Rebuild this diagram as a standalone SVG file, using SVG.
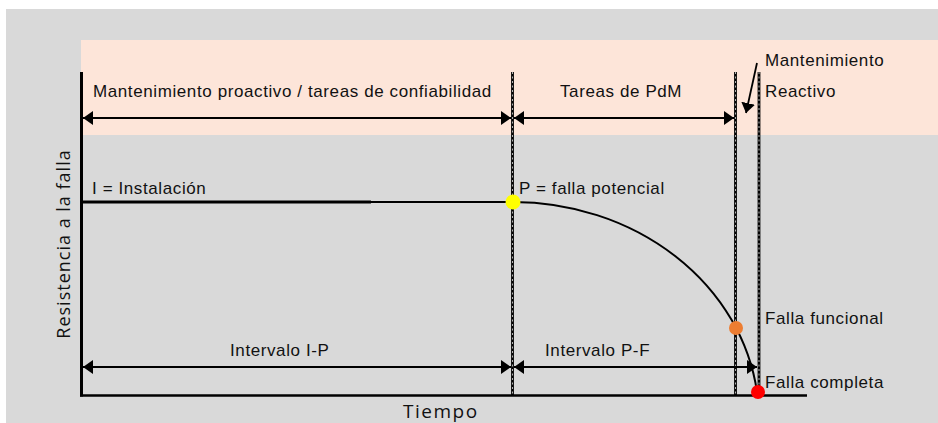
<svg xmlns="http://www.w3.org/2000/svg" width="938" height="423" viewBox="0 0 938 423">
<style>
.lbl{font-family:"Liberation Sans",Arial,sans-serif;font-size:17px;letter-spacing:0.6px;fill:#111}
.ax{font-family:"Open Sans","DejaVu Sans",sans-serif;font-size:19px;fill:#111}
.dashb{stroke:#000;stroke-width:2.8;fill:none}
.dashw{stroke:#fff;stroke-width:0.7;stroke-dasharray:2 2.5;fill:none}
.arr{stroke:#000;stroke-width:2;fill:none;marker-end:url(#ah);marker-start:url(#ah)}
</style>
<defs>
<marker id="ah" viewBox="0 0 10 10" refX="10" refY="5" markerWidth="10" markerHeight="14" markerUnits="userSpaceOnUse" orient="auto-start-reverse" preserveAspectRatio="none">
<path d="M0,0 L10,5 L0,10 z" fill="#000"/>
</marker>
</defs>
<rect x="0" y="0" width="938" height="423" fill="#fff"/>
<rect x="6" y="9" width="932" height="414" fill="#d9d9d9"/>
<rect x="81" y="40" width="857" height="95" fill="#fde5d9"/>
<g id="axes">
<line x1="81.5" y1="72" x2="81.5" y2="396.5" stroke="#000" stroke-width="3"/>
<line x1="80" y1="395.5" x2="807" y2="395.5" stroke="#000" stroke-width="2.5"/>
<text class="ax" transform="translate(70,244) rotate(-90)" text-anchor="middle" style="letter-spacing:1px;font-size:18px">Resistencia a la falla</text>
<text class="ax" x="403" y="418" style="letter-spacing:1.5px">Tiempo</text>
</g>
<g id="dividers">
<line class="dashb" x1="512.5" y1="72" x2="512.5" y2="396"/>
<line class="dashw" x1="512.5" y1="72" x2="512.5" y2="396"/>
<line class="dashb" x1="735.5" y1="72" x2="735.5" y2="396"/>
<line class="dashw" x1="735.5" y1="72" x2="735.5" y2="396"/>
<line class="dashb" x1="759" y1="72" x2="759" y2="396"/>
<line class="dashw" x1="759" y1="72" x2="759" y2="396"/>
</g>
<g id="connectors">
<line class="arr" x1="83" y1="118" x2="511" y2="118"/>
<line class="arr" x1="514" y1="118" x2="734" y2="118"/>
<line class="arr" x1="83" y1="367" x2="511" y2="367"/>
<line class="arr" x1="514" y1="367" x2="757" y2="367"/>
<line x1="757" y1="63" x2="746" y2="113" stroke="#000" stroke-width="1.8" marker-end="url(#ah)"/>
</g>
<g id="curve">
<line x1="81" y1="202" x2="371" y2="202" stroke="#000" stroke-width="3"/>
<line x1="371" y1="202" x2="513" y2="202" stroke="#000" stroke-width="2"/>
<path d="M513,202 A246,218 0 0 1 757,392" stroke="#000" stroke-width="2" fill="none"/>
</g>
<g id="node-proactivo"><text class="lbl" x="93" y="97">Mantenimiento proactivo / tareas de confiabilidad</text></g>
<g id="node-pdm"><text class="lbl" x="560" y="97">Tareas de PdM</text></g>
<g id="node-reactivo"><text class="lbl" x="765" y="66">Mantenimiento</text><text class="lbl" x="765" y="97">Reactivo</text></g>
<g id="node-instalacion"><text class="lbl" x="92" y="194">I = Instalación</text></g>
<g id="node-p"><circle cx="513" cy="202" r="7.5" fill="#ffff00"/><text class="lbl" x="519" y="194">P = falla potencial</text></g>
<g id="node-f"><circle cx="736" cy="328" r="7" fill="#ed7d31"/><text class="lbl" x="765" y="324">Falla funcional</text></g>
<g id="node-completa"><circle cx="758" cy="392" r="7" fill="#ff0000"/><text class="lbl" x="765" y="388">Falla completa</text></g>
<g id="node-ip"><text class="lbl" x="230" y="356">Intervalo I-P</text></g>
<g id="node-pf"><text class="lbl" x="545" y="356">Intervalo P-F</text></g>
</svg>
